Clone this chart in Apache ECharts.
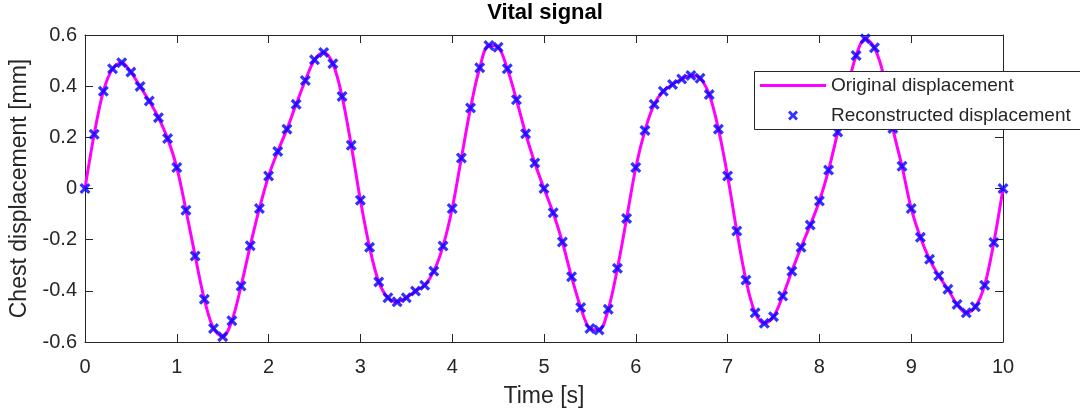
<!DOCTYPE html>
<html>
<head>
<meta charset="utf-8">
<title>Vital signal</title>
<script src="https://cdn.jsdelivr.net/npm/echarts@6/dist/echarts.min.js"></script>
<style>
  html, body { margin: 0; padding: 0; background: #ffffff; }
  #chart { width: 1080px; height: 417px; }
</style>
</head>
<body>
<div id="chart"></div>
<script>
// Sample times (s)
const timeSec = [
  0.0, 0.1, 0.2, 0.3, 0.4, 0.5, 0.6, 0.7, 0.8, 0.9,
  1.0, 1.1, 1.2, 1.3, 1.4, 1.5, 1.6, 1.7, 1.8, 1.9,
  2.0, 2.1, 2.2, 2.3, 2.4, 2.5, 2.6, 2.7, 2.8, 2.9,
  3.0, 3.1, 3.2, 3.3, 3.4, 3.5, 3.6, 3.7, 3.8, 3.9,
  4.0, 4.1, 4.2, 4.3, 4.4, 4.5, 4.6, 4.7, 4.8, 4.9,
  5.0, 5.1, 5.2, 5.3, 5.4, 5.5, 5.6, 5.7, 5.8, 5.9,
  6.0, 6.1, 6.2, 6.3, 6.4, 6.5, 6.6, 6.7, 6.8, 6.9,
  7.0, 7.1, 7.2, 7.3, 7.4, 7.5, 7.6, 7.7, 7.8, 7.9,
  8.0, 8.1, 8.2, 8.3, 8.4, 8.5, 8.6, 8.7, 8.8, 8.9,
  9.0, 9.1, 9.2, 9.3, 9.4, 9.5, 9.6, 9.7, 9.8, 9.9,
  10.0
];

// Chest displacement (mm) of the original signal
const originalMm = [
  0.000, 0.212, 0.380, 0.468, 0.492, 0.455, 0.399, 0.342, 0.277, 0.195,
  0.082, -0.085, -0.264, -0.433, -0.547, -0.579, -0.517, -0.381, -0.224, -0.078,
  0.049, 0.145, 0.232, 0.329, 0.422, 0.503, 0.532, 0.488, 0.360, 0.169,
  -0.046, -0.230, -0.365, -0.427, -0.443, -0.427, -0.401, -0.378, -0.323, -0.225,
  -0.078, 0.119, 0.315, 0.472, 0.559, 0.552, 0.468, 0.347, 0.214, 0.100,
  0.000, -0.095, -0.209, -0.345, -0.465, -0.547, -0.553, -0.472, -0.312, -0.117,
  0.082, 0.227, 0.329, 0.380, 0.407, 0.428, 0.442, 0.431, 0.367, 0.232,
  0.049, -0.166, -0.358, -0.486, -0.527, -0.501, -0.420, -0.323, -0.230, -0.143,
  -0.049, 0.072, 0.221, 0.380, 0.520, 0.585, 0.550, 0.440, 0.235, 0.087,
  -0.078, -0.191, -0.277, -0.341, -0.394, -0.453, -0.486, -0.462, -0.378, -0.211,
  0.000
];

// Reconstructed displacement (mm), sampled at the same instants
const reconstructedMm = originalMm.slice();

const seriesNames = ['Original displacement', 'Reconstructed displacement'];
const titleText = 'Vital signal';
const xAxisTitle = 'Time [s]';
const yAxisTitle = 'Chest displacement [mm]';

const FONT = "'Liberation Sans', Arial, Helvetica, sans-serif";
const INK = '#262626';
// Filled "x" marker
const CROSS = 'path://M0,2.1L2.1,0L5,2.9L7.9,0L10,2.1L7.1,5L10,7.9L7.9,10L5,7.1L2.1,10L0,7.9L2.9,5Z';
// Legend sample for the solid line: a 3px bar across the full icon box
const LINE_ICON = 'path://M0,0L0.01,0M0,3.5L66,3.5L66,6.5L0,6.5ZM0,10L0.01,10';

const pairs = (xs, ys) => xs.map((x, i) => [x, ys[i]]);

const boxAxis = (extra) => Object.assign({
  type: 'value',
  axisLine: { show: true, onZero: false, lineStyle: { color: INK, width: 1 } },
  axisTick: { show: true, inside: true, length: 8, lineStyle: { color: INK, width: 1 } },
  splitLine: { show: false }
}, extra);

const chart = echarts.init(document.getElementById('chart'), null, { renderer: 'canvas' });

chart.setOption({
  backgroundColor: '#ffffff',
  animation: false,
  textStyle: { fontFamily: FONT, color: INK },
  title: {
    text: titleText,
    left: 545,
    top: 2,
    textAlign: 'center',
    padding: 0,
    textStyle: { fontFamily: FONT, fontSize: 22, fontWeight: 'bold', color: '#000000' }
  },
  grid: { left: 85, right: 77, top: 35, bottom: 75, containLabel: false },
  xAxis: [
    boxAxis({
      position: 'bottom', min: 0, max: 10, interval: 1,
      name: xAxisTitle, nameLocation: 'middle', nameGap: 43,
      nameTextStyle: { fontFamily: FONT, fontSize: 23, color: INK },
      axisLabel: { show: true, margin: 15, fontFamily: FONT, fontSize: 20, color: INK }
    }),
    boxAxis({
      position: 'top', min: 0, max: 10, interval: 1,
      axisLabel: { show: false }
    })
  ],
  yAxis: [
    boxAxis({
      position: 'left', min: -0.6, max: 0.6, interval: 0.2,
      name: yAxisTitle, nameLocation: 'middle', nameGap: 54,
      nameTextStyle: { fontFamily: FONT, fontSize: 23, color: INK },
      axisLabel: { show: true, margin: 8, fontFamily: FONT, fontSize: 20, color: INK }
    }),
    boxAxis({
      position: 'right', min: -0.6, max: 0.6, interval: 0.2,
      axisLabel: { show: false }
    })
  ],
  // Legend frame runs past the right edge of the figure
  graphic: [
    {
      type: 'rect',
      left: 754,
      top: 71,
      z: 15,
      shape: { width: 360, height: 58 },
      style: { fill: '#ffffff', stroke: INK, lineWidth: 1 }
    }
  ],
  legend: {
    orient: 'vertical',
    left: 754,
    top: 71,
    padding: [5, 10, 4, 6],
    itemGap: 11,
    itemWidth: 66,
    itemHeight: 10,
    backgroundColor: 'transparent',
    borderWidth: 0,
    z: 20,
    textStyle: { fontFamily: FONT, fontSize: 19, color: INK },
    data: [
      { name: seriesNames[0], icon: LINE_ICON },
      { name: seriesNames[1] }
    ]
  },
  series: [
    {
      name: seriesNames[0],
      type: 'line',
      data: pairs(timeSec, originalMm),
      showSymbol: false,
      symbol: 'none',
      smooth: 0.35,
      lineStyle: { color: '#ff00ff', width: 3 },
      itemStyle: { color: '#ff00ff' },
      z: 2
    },
    {
      name: seriesNames[1],
      type: 'scatter',
      data: pairs(timeSec, reconstructedMm),
      symbol: CROSS,
      symbolSize: 11,
      symbolKeepAspect: true,
      itemStyle: { color: '#0000ff' },
      z: 3
    }
  ]
});
</script>
</body>
</html>
